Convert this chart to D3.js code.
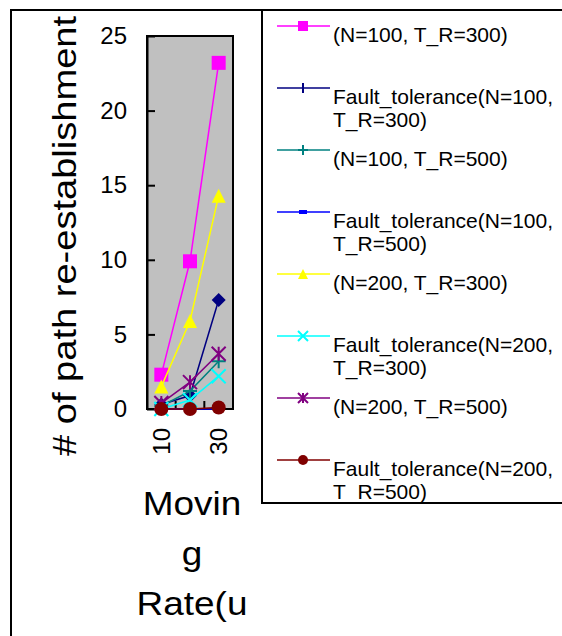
<!DOCTYPE html>
<html>
<head>
<meta charset="utf-8">
<script src="https://cdn.jsdelivr.net/npm/d3@7"></script>
<style>
  body { margin: 0; background: #fff; }
  text { font-family: "Liberation Sans", Arial, sans-serif; fill: #000; }
</style>
</head>
<body>
<svg id="chart" width="562" height="636"></svg>
<script>
// Moving rate categories
const categories = ["10", "20", "30"];
const shownXTicks = ["10", "30"];
const yTicks = [0, 5, 10, 15, 20, 25];

// Series values
const seriesNames = [
    "(N=100, T_R=300)",
    "Fault_tolerance(N=100,\nT_R=300)",
    "(N=100, T_R=500)",
    "Fault_tolerance(N=100,\nT_R=500)",
    "(N=200, T_R=300)",
    "Fault_tolerance(N=200,\nT_R=300)",
    "(N=200, T_R=500)",
    "Fault_tolerance(N=200,\nT_R=500)"
];
const n100tr300 = [2.3, 9.9, 23.2];
const ft100tr300 = [0.3, 0.9, 7.3];
const n100tr500 = [0.2, 1.2, 3.2];
const ft100tr500 = [0, 0, 0];
const n200tr300 = [1.5, 5.9, 14.3];
const ft200tr300 = [0, 0.6, 2.2];
const n200tr500 = [0.4, 1.8, 3.7];
const ft200tr500 = [0, 0, 0.1];

const seriesValues = [n100tr300, ft100tr300, n100tr500, ft100tr500, n200tr300, ft200tr300, n200tr500, ft200tr500];
const seriesColors = ["#ff00ff", "#000080", "#008080", "#0000ff", "#ffff00", "#00ffff", "#800080", "#800000"];
const plotMarkers = ["square", "diamond", "plus", "dash", "triangle", "cross", "star", "circle"];
const legendMarkers = ["square", "vbar", "plus", "dash", "triangle", "cross", "star", "circle"];

var svg = d3.select("#chart");

// Outer chart frame (only the top and left edges are in view)
svg.append("path")
    .attr("d", "M11,636 L11,10 L562,10")
    .attr("fill", "none")
    .attr("stroke", "#000")
    .attr("stroke-width", 2);

var plot = { left: 147, right: 233, top: 36, bottom: 409 };

var xScale = d3.scaleBand()
    .domain(categories)
    .range([plot.left, plot.right]);

var yScale = d3.scaleLinear()
    .domain([0, 25])
    .range([plot.bottom, plot.top]);

// Plot background
svg.append("rect")
    .attr("x", plot.left)
    .attr("y", plot.top)
    .attr("width", plot.right - plot.left)
    .attr("height", plot.bottom - plot.top)
    .attr("fill", "#c0c0c0")
    .attr("stroke", "#000")
    .attr("stroke-width", 2);

// Y axis, ticks pointing inward
var yAxis = svg.append("g")
    .attr("transform", `translate(${plot.left},0)`)
    .call(d3.axisLeft(yScale).tickValues(yTicks).tickSizeInner(-8).tickSizeOuter(0).tickPadding(20));
yAxis.select(".domain").attr("stroke-width", 2);
yAxis.selectAll(".tick line").attr("stroke-width", 2);
yAxis.selectAll("text").style("font-size", "24px").attr("font-family", null);

// X axis: tick marks sit between categories, pointing up
var boundaries = categories.slice(1).map(c => xScale(c));
svg.selectAll(".xtick")
    .data(boundaries)
    .enter().append("line")
    .attr("x1", d => d).attr("x2", d => d)
    .attr("y1", plot.bottom).attr("y2", plot.bottom - 8)
    .attr("stroke", "#000")
    .attr("stroke-width", 2);

svg.selectAll(".xlabel")
    .data(shownXTicks)
    .enter().append("text")
    .attr("transform", d => `translate(${xScale(d) + xScale.bandwidth() / 2},${plot.bottom + 19}) rotate(-90)`)
    .attr("text-anchor", "end")
    .attr("dy", "0.35em")
    .style("font-size", "24px")
    .text(d => d);

// Marker drawing
function drawMarker(g, type, color, s) {
    var h = s / 2;
    if (type == "square") {
        g.append("rect").attr("x", -h).attr("y", -h).attr("width", s).attr("height", s).attr("fill", color);
    } else if (type == "diamond") {
        g.append("path").attr("d", `M0,${-h}L${h},0L0,${h}L${-h},0Z`).attr("fill", color);
    } else if (type == "triangle") {
        g.append("path").attr("d", `M0,${-h}L${h},${h}L${-h},${h}Z`).attr("fill", color);
    } else if (type == "circle") {
        g.append("circle").attr("r", h).attr("fill", color);
    } else if (type == "plus") {
        g.append("path").attr("d", `M${-h},0H${h}M0,${-h}V${h}`).attr("stroke", color).attr("stroke-width", 2);
    } else if (type == "vbar") {
        g.append("path").attr("d", `M0,${-h}V${h}`).attr("stroke", color).attr("stroke-width", 2);
    } else if (type == "cross") {
        g.append("path").attr("d", `M${-h},${-h}L${h},${h}M${-h},${h}L${h},${-h}`).attr("stroke", color).attr("stroke-width", 2);
    } else if (type == "star") {
        g.append("path").attr("d", `M${-h},${-h}L${h},${h}M${-h},${h}L${h},${-h}M0,${-h}V${h}`).attr("stroke", color).attr("stroke-width", 2);
    } else if (type == "dash") {
        g.append("rect").attr("x", -h).attr("y", -2).attr("width", s).attr("height", 4).attr("fill", color);
    }
}

// Lines and markers
var valueline = d3.line()
    .x((d, i) => xScale(categories[i]) + xScale.bandwidth() / 2)
    .y(d => yScale(d));

for (let i = 0; i < seriesValues.length; i++) {
    svg.append("path")
        .datum(seriesValues[i])
        .attr("d", valueline)
        .attr("fill", "none")
        .attr("stroke", seriesColors[i])
        .attr("stroke-width", 1.5);

    seriesValues[i].forEach(function (v, j) {
        var g = svg.append("g")
            .attr("transform", `translate(${xScale(categories[j]) + xScale.bandwidth() / 2},${yScale(v)})`);
        drawMarker(g, plotMarkers[i], seriesColors[i], plotMarkers[i] == "dash" ? 8 : 14);
    });
}

// Y axis title (the original font is drawn a little wider)
svg.append("text")
    .attr("transform", "translate(76,456) rotate(-90) scale(1.12,1)")
    .attr("text-anchor", "start")
    .style("font-size", "34px")
    .text("# of path re-establishment");

// X axis title (wrapped and cut off in the original)
var xTitle = ["Movin", "g", "Rate(u"];
svg.selectAll(".xtitle")
    .data(xTitle)
    .enter().append("text")
    .attr("transform", (d, i) => `translate(192,${515 + i * 50}) scale(1.12,1)`)
    .attr("text-anchor", "middle")
    .style("font-size", "33px")
    .text(d => d);

// Legend box
svg.append("rect")
    .attr("x", 262)
    .attr("y", 10)
    .attr("width", 320)
    .attr("height", 493)
    .attr("fill", "#fff")
    .attr("stroke", "#000")
    .attr("stroke-width", 2);

var legend = svg.append("g");
seriesNames.forEach(function (name, i) {
    var ly = 26 + i * 62;
    var row = legend.append("g").attr("transform", `translate(0,${ly})`);
    row.append("line")
        .attr("x1", 277).attr("x2", 330)
        .attr("stroke", seriesColors[i])
        .attr("stroke-width", 1.5);
    var mg = row.append("g").attr("transform", "translate(303,0)");
    drawMarker(mg, legendMarkers[i], seriesColors[i], legendMarkers[i] == "dash" ? 8 : 10);
    name.split("\n").forEach(function (line, k) {
        row.append("text")
            .attr("x", 333)
            .attr("y", 16 + k * 23)
            .style("font-size", "21px")
            .text(line);
    });
});
</script>
</body>
</html>
